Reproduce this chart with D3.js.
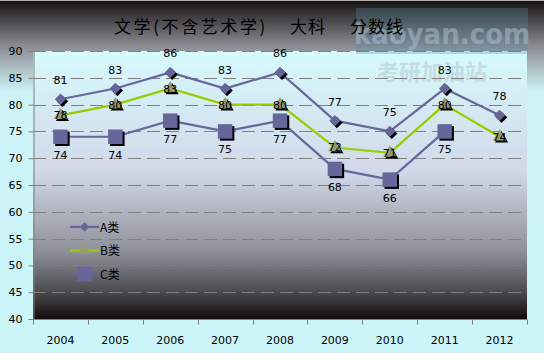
<!DOCTYPE html>
<html>
<head>
<meta charset="utf-8">
<script src="https://cdn.jsdelivr.net/npm/d3@7"></script>
<style>
  body { margin: 0; }
  svg { display: block; }
</style>
</head>
<body>
<div id="chart"></div>
<script>
const years = ['2004', '2005', '2006', '2007', '2008', '2009', '2010', '2011', '2012'];
const seriesA = [81, 83, 86, 83, 86, 77, 75, 83, 78];
const seriesB = [78, 80, 83, 80, 80, 72, 71, 80, 74];
const seriesC = [74, 74, 77, 75, 77, 68, 66, 75, null];
const yTicks = [40, 45, 50, 55, 60, 65, 70, 75, 80, 85, 90];
const seriesNames = ['A类', 'B类', 'C类'];
const titleParts = ['文学(不含艺术学)', '大科', '分数线'];

const width = 544, height = 353;
const plot = { left: 33, right: 527, top: 51, bottom: 319 };

const svg = d3.select('#chart').append('svg')
  .attr('width', width)
  .attr('height', height);

const defs = svg.append('defs');

// outer background: dark at top, fading into cyan
const bg = defs.append('linearGradient').attr('id', 'bg')
  .attr('x1', 0).attr('y1', 0).attr('x2', 0).attr('y2', 1);
bg.append('stop').attr('offset', 0).attr('stop-color', '#141010');
bg.append('stop').attr('offset', 0.13).attr('stop-color', '#8a8c92');
bg.append('stop').attr('offset', 0.26).attr('stop-color', '#cdf3f7');
bg.append('stop').attr('offset', 1).attr('stop-color', '#cbf5f9');

// plot area: cyan at top, black at bottom
const pg = defs.append('linearGradient').attr('id', 'pg')
  .attr('x1', 0).attr('y1', 0).attr('x2', 0).attr('y2', 1);
pg.append('stop').attr('offset', 0).attr('stop-color', '#d6fafd');
pg.append('stop').attr('offset', 0.45).attr('stop-color', '#d2d8e8');
pg.append('stop').attr('offset', 0.75).attr('stop-color', '#8e9098');
pg.append('stop').attr('offset', 0.9).attr('stop-color', '#4a4a4e');
pg.append('stop').attr('offset', 1).attr('stop-color', '#120a0a');

svg.append('rect').attr('width', width).attr('height', height).attr('fill', 'url(#bg)');
svg.append('line').attr('x1', 0).attr('x2', width).attr('y1', 0.5).attr('y2', 0.5)
  .attr('stroke', '#b0b0b0');

svg.append('rect')
  .attr('x', plot.left).attr('y', plot.top)
  .attr('width', plot.right - plot.left).attr('height', plot.bottom - plot.top)
  .attr('fill', 'url(#pg)');

// faint watermarks
svg.append('rect').attr('x', 356).attr('y', 8).attr('width', 172).attr('height', 46)
  .attr('fill', '#5a8aa8').attr('opacity', 0.3);
svg.append('text').attr('x', 442).attr('y', 44).attr('text-anchor', 'middle')
  .style('font-family', 'DejaVu Sans Condensed').style('font-size', '29px').style('font-weight', 'bold')
  .attr('fill', '#a8bccc').attr('opacity', 0.55).text('kaoyan.com');
svg.append('text').attr('x', 432).attr('y', 80).attr('text-anchor', 'middle')
  .style('font-family', 'Noto Sans CJK SC').style('font-size', '22px').style('font-weight', 'bold')
  .attr('fill', '#a8bcc4').attr('opacity', 0.4).text('考研加油站');

const x = d3.scaleBand().domain(years).range([plot.left, plot.right]);
const y = d3.scaleLinear().domain([40, 90]).range([plot.bottom, plot.top]);
const cx = d => x(d) + x.bandwidth() / 2;

// dashed gridlines
svg.append('g')
  .selectAll('line')
  .data(yTicks.filter(t => t > 40))
  .enter().append('line')
  .attr('x1', plot.left).attr('x2', plot.right)
  .attr('y1', d => Math.round(y(d)) + 0.5).attr('y2', d => Math.round(y(d)) + 0.5)
  .attr('stroke', '#7f7f7f')
  .attr('stroke-dasharray', '13,6');

// axes
const yAxis = svg.append('g')
  .attr('transform', `translate(${plot.left + 0.5},0)`)
  .call(d3.axisLeft(y).tickValues(yTicks).tickSize(5).tickPadding(6).tickFormat(d3.format('d')));
yAxis.select('.domain').attr('stroke', '#808080');
yAxis.selectAll('.tick line').attr('stroke', '#808080');
yAxis.selectAll('text').style('font-family', 'DejaVu Sans').style('font-size', '11px').attr('fill', '#000');

const xBound = d3.scaleLinear().domain([0, years.length]).range([plot.left, plot.right]);
const xAxis = svg.append('g').attr('transform', `translate(0,${plot.bottom + 0.5})`);
xAxis.append('line').attr('x1', plot.left).attr('x2', plot.right).attr('stroke', '#808080');
xAxis.selectAll('.tk').data(d3.range(years.length + 1)).enter().append('line')
  .attr('x1', d => Math.round(xBound(d)) + 0.5).attr('x2', d => Math.round(xBound(d)) + 0.5)
  .attr('y1', 0).attr('y2', 5).attr('stroke', '#808080');
xAxis.selectAll('text').data(years).enter().append('text')
  .attr('x', d => cx(d)).attr('y', 24)
  .attr('text-anchor', 'middle')
  .style('font-family', 'DejaVu Sans').style('font-size', '11px')
  .attr('fill', '#000').text(d => d);

// title in three pieces, spaced like the original
const titleX = [114, 290, 350];
const titleSpacing = [2.6, 1, 1];
svg.append('g').selectAll('text')
  .data(titleParts)
  .enter().append('text')
  .attr('x', (d, i) => titleX[i]).attr('y', 33)
  .style('font-family', 'Noto Sans CJK SC').style('font-size', '17px')
  .style('letter-spacing', (d, i) => titleSpacing[i] + 'px')
  .attr('fill', '#000')
  .text(d => d);

const lineColors = ['#66669a', '#99cc00', '#66669a'];
const markerFill = ['#66669a', '#9a9a72', '#66669a'];
const shapes = [d3.symbolSquare, d3.symbolTriangle, d3.symbolSquare];
const rotate = [45, 0, 0];

function marker(g, type, px, py, size) {
  const path = d3.symbol().type(shapes[type]).size(size)();
  g.append('path').attr('d', path)
    .attr('transform', `translate(${px + 2},${py + 2}) rotate(${rotate[type]})`)
    .attr('fill', '#000');
  g.append('path').attr('d', path)
    .attr('transform', `translate(${px},${py}) rotate(${rotate[type]})`)
    .attr('fill', markerFill[type]);
}

const allSeries = [seriesA, seriesB, seriesC];
const labelOffset = [-15, 4, 22];
const markerSize = [64, 75, 210];

allSeries.forEach((vals, s) => {
  const pts = years.map((yr, i) => ({ yr, v: vals[i] })).filter(d => d.v !== null);
  const line = d3.line().x(d => cx(d.yr)).y(d => y(d.v));
  svg.append('path').datum(pts)
    .attr('d', line)
    .attr('fill', 'none')
    .attr('stroke', lineColors[s])
    .attr('stroke-width', 2.2);
});

allSeries.forEach((vals, s) => {
  const g = svg.append('g');
  years.forEach((yr, i) => {
    if (vals[i] === null) return;
    marker(g, s, cx(yr), y(vals[i]), markerSize[s]);
  });
});

allSeries.forEach((vals, s) => {
  svg.append('g').selectAll('text')
    .data(years.map((yr, i) => ({ yr, v: vals[i] })).filter(d => d.v !== null))
    .enter().append('text')
    .attr('x', d => cx(d.yr))
    .attr('y', d => y(d.v) + labelOffset[s])
    .attr('text-anchor', 'middle')
    .style('font-family', 'DejaVu Sans').style('font-size', '11px')
    .attr('fill', '#000')
    .text(d => d.v);
});

// legend
const legend = svg.append('g');
const legendSize = [45, 60, 210];
seriesNames.forEach((name, s) => {
  const ly = 227 + s * 23.5;
  legend.append('line').attr('x1', 70).attr('x2', 99).attr('y1', ly).attr('y2', ly)
    .attr('stroke', lineColors[s]).attr('stroke-width', 2.2);
  legend.append('path').attr('d', d3.symbol().type(shapes[s]).size(legendSize[s])())
    .attr('transform', `translate(84.5,${ly}) rotate(${rotate[s]})`)
    .attr('fill', markerFill[s]);
  legend.append('text').attr('x', 100).attr('y', ly + 4.5)
    .style('font-family', 'Noto Sans CJK SC').style('font-size', '12px')
    .attr('fill', '#000').text(name);
});
</script>
</body>
</html>
